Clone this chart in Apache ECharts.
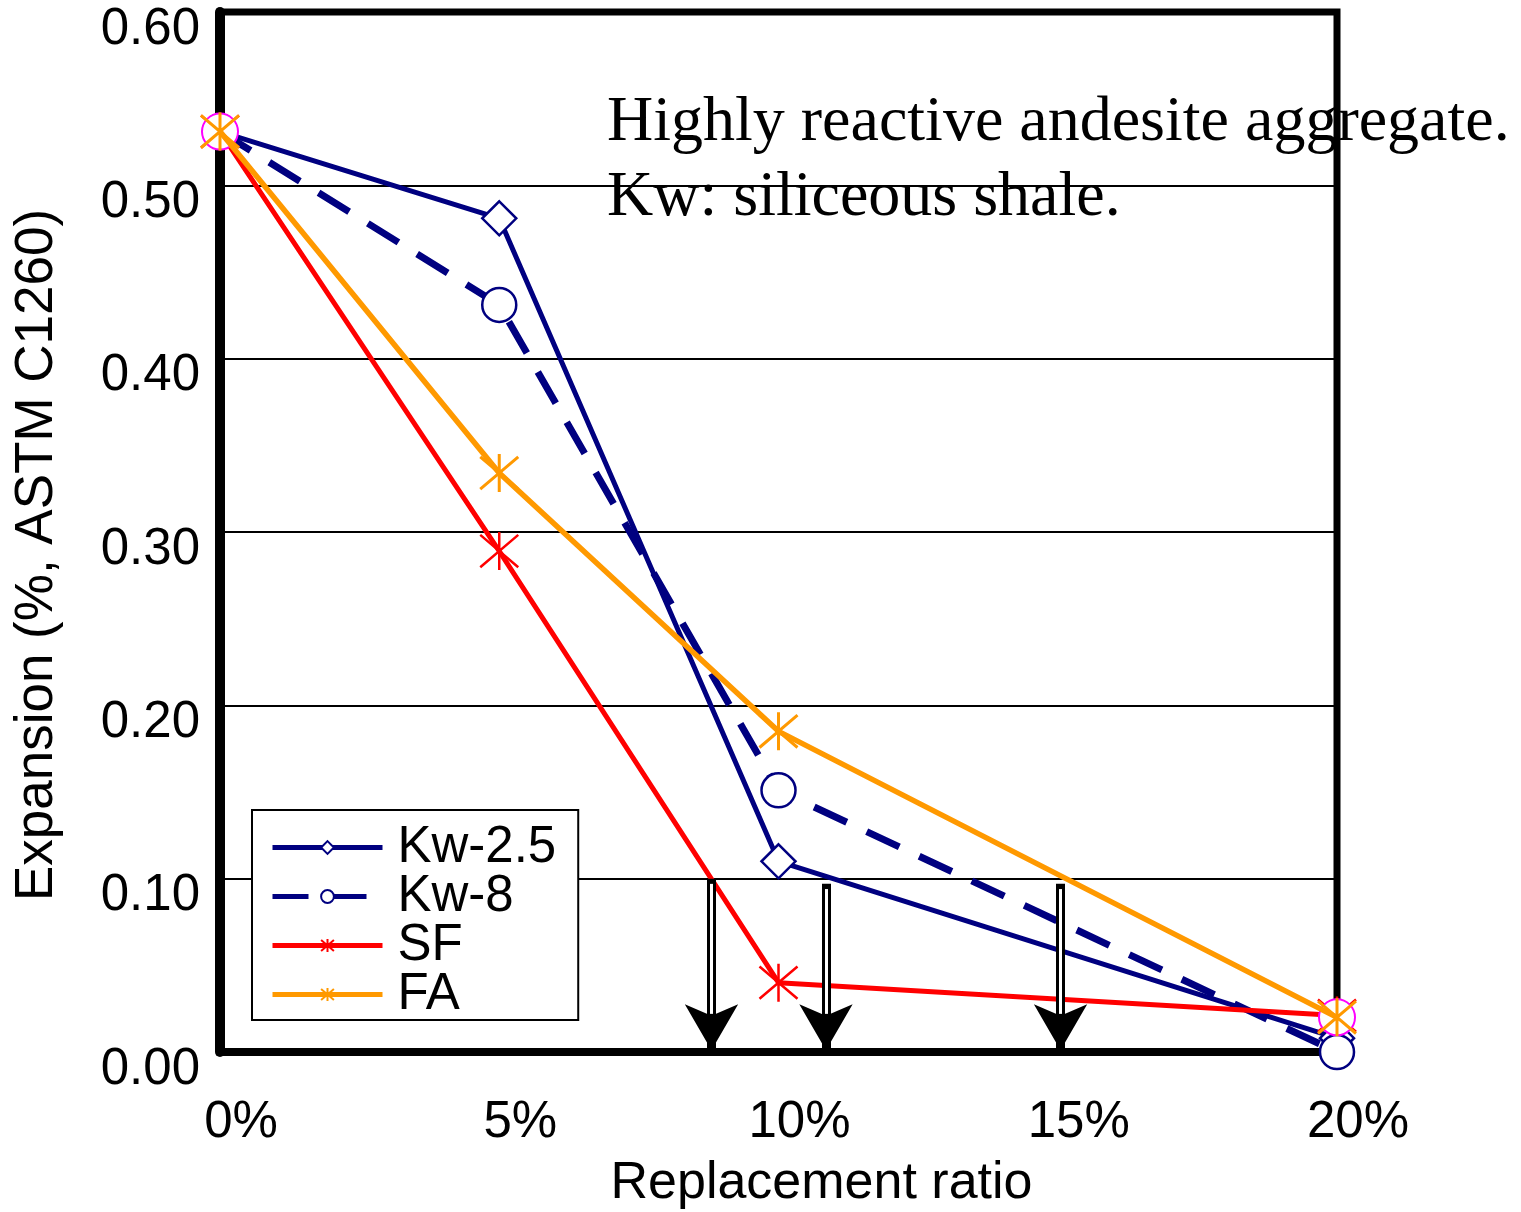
<!DOCTYPE html>
<html>
<head>
<meta charset="utf-8">
<script src="https://cdn.jsdelivr.net/npm/echarts@6/dist/echarts.min.js"></script>
<style>html,body{margin:0;padding:0;background:#fff}#c{width:1521px;height:1212px}</style>
</head>
<body>
<div id="c"></div>
<script>
// ---- data ----
var ratios = [0, 5, 10, 20];                 // replacement ratio (%)
var kw25 = [0.531, 0.481, 0.110, 0.008];
var kw8  = [0.531, 0.431, 0.151, 0.000];
var sf   = [0.531, 0.289, 0.040, 0.021];
var fa   = [0.531, 0.334, 0.185, 0.020];
var refRatios = [0, 20];
var refVals = [0.531, 0.020];
var xTicks = [0, 5, 10, 15, 20];
var yTicks = [0, 0.1, 0.2, 0.3, 0.4, 0.5, 0.6];
// arrows: x position (%), top value
var arrowX = [8.8, 10.85, 15.05];
var arrowTop = [0.100, 0.097, 0.097];

function pts(xs, ys){ return xs.map(function(x,i){ return [x, ys[i]]; }); }

var SANS = '"Liberation Sans", Arial, sans-serif';
var star = 'path://M10,0L10,20M1.5,1.5L18.5,18.5M1.5,18.5L18.5,1.5';

var chart = echarts.init(document.getElementById('c'), null, {renderer:'canvas'});

var arrowOuter = arrowX.map(function(x,i){ return [{coord:[x, arrowTop[i]]},{coord:[x, 0.001]}]; });
var arrowInner = arrowX.map(function(x,i){ return [{coord:[x, arrowTop[i]-0.003]},{coord:[x, 0.022]}]; });

chart.setOption({
  animation: false,
  backgroundColor: '#fff',
  grid: {left:220, right:184, top:12, bottom:160, show:true, borderColor:'#000', borderWidth:7,
    backgroundColor:'transparent', containLabel:false, outerBoundsMode:'none'},
  xAxis: {
    type:'value', min:0, max:20, interval:5,
    axisLine:{show:true, lineStyle:{color:'#000', width:8}},
    axisTick:{show:false},
    splitLine:{show:false},
    axisLabel:{color:'#000', fontFamily:SANS, fontSize:51, margin:45, padding:[0,0,0,42],
      formatter:function(v){ return v + '%'; }},
    name:'Replacement ratio', nameLocation:'middle', nameGap:106,
    nameTextStyle:{color:'#000', fontFamily:SANS, fontSize:52, padding:[0,0,0,86]}
  },
  yAxis: {
    type:'value', min:0, max:0.6, interval:0.1,
    axisLine:{show:true, lineStyle:{color:'#000', width:10}},
    axisTick:{show:false},
    splitLine:{show:true, lineStyle:{color:'#000', width:2}},
    axisLabel:{color:'#000', fontFamily:SANS, fontSize:51, margin:20, verticalAlign:'top', lineHeight:35,
      formatter:function(v){ return v.toFixed(2); }},
    name:'Expansion (%, ASTM C1260)', nameLocation:'middle', nameGap:156, nameRotate:90,
    nameTextStyle:{color:'#000', fontFamily:SANS, fontSize:53, padding:[0,46,0,0]}
  },
  legend: {
    data:['Kw-2.5','Kw-8','SF','FA'],
    orient:'vertical', left:252, top:810,
    backgroundColor:'#fff', borderColor:'#000', borderWidth:2,
    padding:[12,22,0,18], itemGap:-2, itemWidth:110, itemHeight:16,
    lineStyle:{width:5},
    textStyle:{color:'#000', fontFamily:SANS, fontSize:51, lineHeight:43, padding:[0,0,0,10]}
  },
  graphic: [
    {type:'text', left:607, top:91, z:0, style:{text:'Highly reactive andesite aggregate.', font:'64px "Liberation Serif", "Times New Roman", serif', fill:'#000'}},
    {type:'text', left:607, top:166, z:0, style:{text:'Kw: siliceous shale.', font:'64px "Liberation Serif", "Times New Roman", serif', fill:'#000'}}
  ],
  series: [
    {name:'Kw-2.5', type:'line', data:pts(ratios, kw25), symbol:'diamond', symbolSize:34,
      lineStyle:{color:'#000080', width:5}, itemStyle:{color:'#fff', borderColor:'#000080', borderWidth:2.5}, z:3},
    {name:'Kw-8', type:'line', data:pts(ratios, kw8), symbol:'circle', symbolSize:34,
      lineStyle:{color:'#000080', width:7, type:[36,22]}, itemStyle:{color:'#fff', borderColor:'#000080', borderWidth:2.5}, z:3},
    {name:'SF', type:'line', data:pts(ratios, sf), symbol:star, symbolSize:38,
      lineStyle:{color:'#ff0000', width:5}, itemStyle:{color:'#ff0000', borderColor:'#ff0000', borderWidth:2.5}, z:4},
    {name:'ref', type:'line', data:pts(refRatios, refVals), symbol:'emptyCircle', symbolSize:36,
      lineStyle:{width:0, opacity:0}, itemStyle:{color:'#ff00ff', borderColor:'#ff00ff', borderWidth:3}, z:5},
    {name:'FA', type:'line', data:pts(ratios, fa), symbol:star, symbolSize:38,
      lineStyle:{color:'#ff9900', width:5.5}, itemStyle:{color:'#ff9900', borderColor:'#ff9900', borderWidth:3}, z:6},
    {name:'arrowsOuter', type:'line', data:[], z:7, silent:true,
      markLine:{silent:true, symbol:['none','arrow'], symbolSize:[40,46], label:{show:false},
        lineStyle:{color:'#000', width:9, type:'solid'}, emphasis:{disabled:true}, data:arrowOuter}},
    {name:'arrowsInner', type:'line', data:[], z:8, silent:true,
      markLine:{silent:true, symbol:['none','none'], label:{show:false},
        lineStyle:{color:'#fff', width:3, type:'solid'}, emphasis:{disabled:true}, data:arrowInner}}
  ]
});
</script>
</body>
</html>
